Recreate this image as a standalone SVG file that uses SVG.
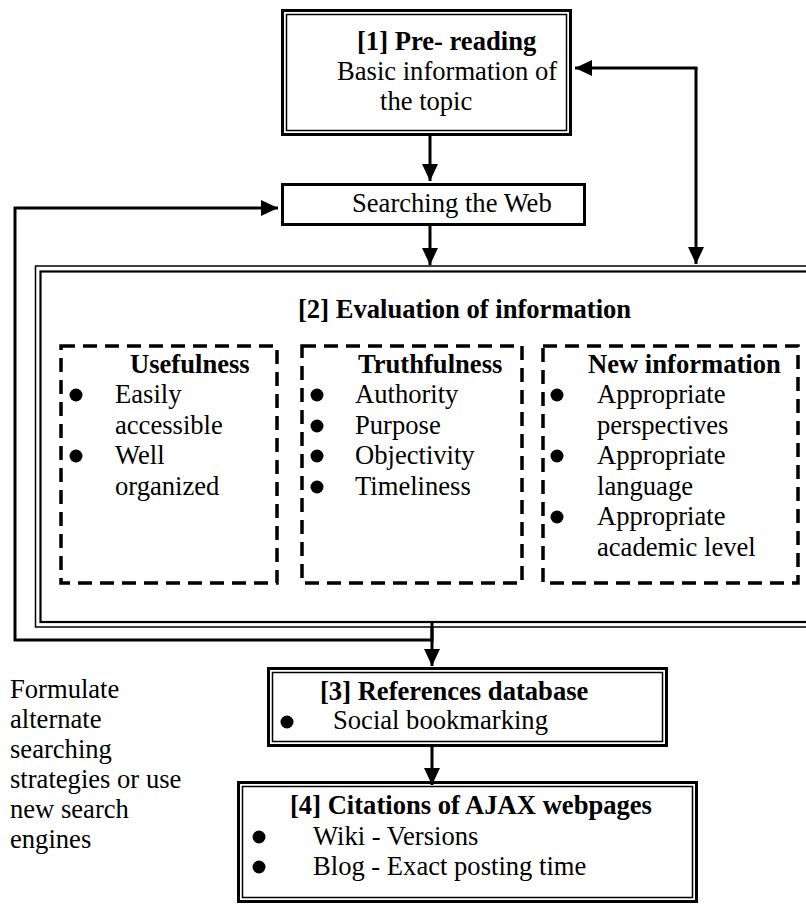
<svg xmlns="http://www.w3.org/2000/svg" width="806" height="904" viewBox="0 0 806 904" font-family="Liberation Serif, Times New Roman, serif" font-size="26.6">
<style>
.b{font-weight:bold}
.thick{fill:none;stroke:#000;stroke-width:3}
.thin{fill:none;stroke:#000;stroke-width:1.5}
.dash{fill:none;stroke:#000;stroke-width:3.5;stroke-dasharray:14 8}
.ln{fill:none;stroke:#000;stroke-width:3}
.dot{fill:#000}
</style>
<defs>
<marker id="ah" markerWidth="17" markerHeight="16" refX="17" refY="8" orient="auto" markerUnits="userSpaceOnUse">
<path d="M0,0 L17,8 L0,16 Z" fill="#000"/>
</marker>
</defs>
<rect width="806" height="904" fill="#fff"/>

<g id="connectors">
<line class="ln" x1="430" y1="136" x2="430" y2="181" marker-end="url(#ah)"/>
<line class="ln" x1="430" y1="226" x2="430" y2="265" marker-end="url(#ah)"/>
<polyline class="ln" points="432,627 432,640 15,640 15,208 278,208" marker-end="url(#ah)"/>
<line class="ln" x1="432" y1="622" x2="432" y2="666" marker-end="url(#ah)"/>
<line class="ln" x1="432" y1="747" x2="432" y2="785" marker-end="url(#ah)"/>
<polyline class="ln" points="696,68 696,264" marker-end="url(#ah)"/>
<polyline class="ln" points="697.5,68 575,68" marker-end="url(#ah)"/>
</g>

<g id="node1" font-family="Liberation Serif">
<rect class="thick" x="282.5" y="10.5" width="288" height="124"/>
<rect class="thin" x="286.5" y="14.5" width="280" height="116"/>
<text class="b" x="357" y="50" font-family="Liberation Serif">[1] Pre- reading</text>
<text x="337" y="80" font-family="Liberation Serif">Basic information of</text>
<text x="380" y="110" font-family="Liberation Serif">the topic</text>
</g>

<g id="search" font-family="Liberation Serif">
<rect class="thick" x="282.5" y="184.5" width="302" height="40"/>
<text x="352" y="212" font-family="Liberation Serif">Searching the Web</text>
</g>

<g id="node2" font-family="Liberation Serif">
<rect class="thin" x="35.5" y="266" width="800" height="361"/>
<rect fill="none" stroke="#000" stroke-width="2.2" x="40.5" y="271.5" width="790" height="350.5"/>
<text class="b" x="298" y="318" font-family="Liberation Serif">[2] Evaluation of information</text>
</g>

<g id="usefulness" font-family="Liberation Serif">
<rect class="dash" x="61" y="346" width="216" height="237"/>
<text class="b" x="130" y="373" font-family="Liberation Serif">Usefulness</text>
<circle class="dot" cx="76" cy="395" r="6.5"/>
<text x="115" y="403" font-family="Liberation Serif">Easily</text>
<text x="115" y="434" font-family="Liberation Serif">accessible</text>
<circle class="dot" cx="76" cy="456" r="6.5"/>
<text x="115" y="464" font-family="Liberation Serif">Well</text>
<text x="115" y="495" font-family="Liberation Serif">organized</text>
</g>

<g id="truthfulness" font-family="Liberation Serif">
<rect class="dash" x="302" y="346" width="220" height="237"/>
<text class="b" x="358" y="373" font-family="Liberation Serif">Truthfulness</text>
<circle class="dot" cx="317" cy="395" r="6.5"/>
<text x="355" y="403" font-family="Liberation Serif">Authority</text>
<circle class="dot" cx="317" cy="426" r="6.5"/>
<text x="355" y="434" font-family="Liberation Serif">Purpose</text>
<circle class="dot" cx="317" cy="456" r="6.5"/>
<text x="355" y="464" font-family="Liberation Serif">Objectivity</text>
<circle class="dot" cx="317" cy="487" r="6.5"/>
<text x="355" y="495" font-family="Liberation Serif">Timeliness</text>
</g>

<g id="newinfo" font-family="Liberation Serif">
<rect class="dash" x="543" y="346" width="255" height="237"/>
<text class="b" x="588" y="373" font-family="Liberation Serif">New information</text>
<circle class="dot" cx="557" cy="395" r="6.5"/>
<text x="597" y="403" font-family="Liberation Serif">Appropriate</text>
<text x="597" y="434" font-family="Liberation Serif">perspectives</text>
<circle class="dot" cx="557" cy="456" r="6.5"/>
<text x="597" y="464" font-family="Liberation Serif">Appropriate</text>
<text x="597" y="495" font-family="Liberation Serif">language</text>
<circle class="dot" cx="557" cy="517" r="6.5"/>
<text x="597" y="525" font-family="Liberation Serif">Appropriate</text>
<text x="597" y="556" font-family="Liberation Serif">academic level</text>
</g>

<g id="note" font-family="Liberation Serif">
<text x="10" y="698" font-family="Liberation Serif">Formulate</text>
<text x="10" y="728" font-family="Liberation Serif">alternate</text>
<text x="10" y="758" font-family="Liberation Serif">searching</text>
<text x="10" y="788" font-family="Liberation Serif">strategies or use</text>
<text x="10" y="818" font-family="Liberation Serif">new search</text>
<text x="10" y="848" font-family="Liberation Serif">engines</text>
</g>

<g id="node3" font-family="Liberation Serif">
<rect class="thick" x="268.5" y="668.5" width="398" height="77"/>
<rect class="thin" x="272.5" y="672.5" width="390" height="69"/>
<text class="b" x="320" y="700" font-family="Liberation Serif">[3] References database</text>
<circle class="dot" cx="287" cy="722" r="6.5"/>
<text x="333" y="729" font-family="Liberation Serif">Social bookmarking</text>
</g>

<g id="node4" font-family="Liberation Serif">
<rect class="thick" x="238.5" y="782.5" width="458" height="119"/>
<rect class="thin" x="242.5" y="786.5" width="450" height="111"/>
<text class="b" x="290" y="814" font-family="Liberation Serif">[4] Citations of AJAX webpages</text>
<circle class="dot" cx="259" cy="837" r="6.5"/>
<text x="313" y="845" font-family="Liberation Serif">Wiki - Versions</text>
<circle class="dot" cx="259" cy="867" r="6.5"/>
<text x="313" y="875" font-family="Liberation Serif">Blog - Exact posting time</text>
</g>
</svg>
